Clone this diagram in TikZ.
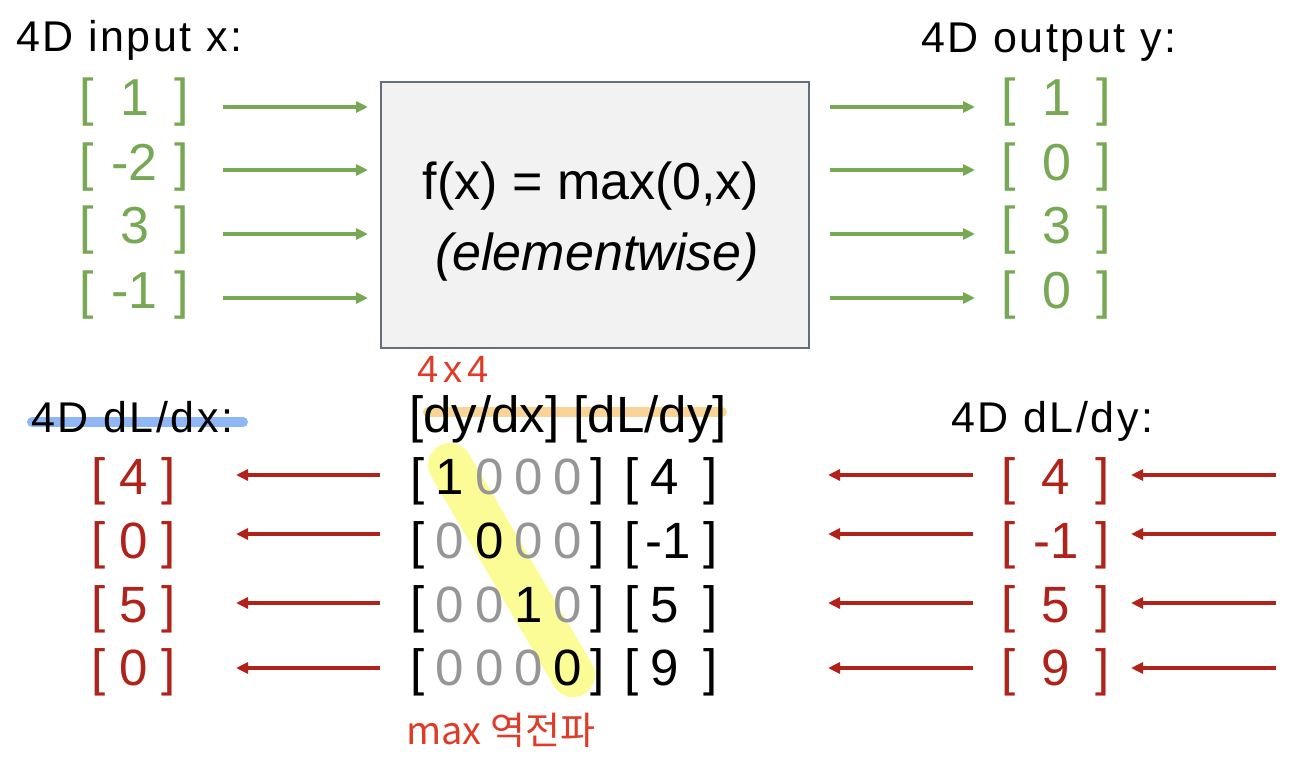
\documentclass[tikz,border=0pt]{standalone}
\usepackage{fontspec}
\setmainfont{Liberation Sans}
\newfontfamily\krfont{Noto Sans CJK KR}
\newfontfamily\lblfont[LetterSpace=6]{Liberation Sans}
\newfontfamily\handfont[LetterSpace=14]{Liberation Sans}
\usetikzlibrary{arrows.meta}
\definecolor{vgreen}{RGB}{119,168,83}
\definecolor{vred}{RGB}{176,35,26}
\definecolor{hred}{RGB}{222,60,40}
\definecolor{dgray}{RGB}{150,150,150}
\definecolor{boxfill}{RGB}{242,242,242}
\definecolor{boxline}{RGB}{100,110,125}
\definecolor{hblue}{RGB}{143,182,245}
\definecolor{horange}{RGB}{250,212,150}
\definecolor{hyellow}{RGB}{252,252,150}
\newcommand\vbr[2]{[\makebox[#1][c]{#2}]}
\tikzset{
  lbl/.style={font=\lblfont\fontsize{43}{50}\selectfont, anchor=base west, inner sep=0pt},
  gvec/.style={font=\fontsize{52}{60}\selectfont, text=vgreen, anchor=base, inner sep=0pt},
  rvec/.style={font=\fontsize{51}{60}\selectfont, text=vred, anchor=base, inner sep=0pt},
  mtx/.style={font=\fontsize{51}{60}\selectfont, anchor=base, inner sep=0pt},
  garrow/.style={draw=vgreen, line width=3.4pt, -{Triangle[length=12pt,width=11pt]}},
  rarrow/.style={draw=vred, line width=3.4pt, -{Triangle[length=12pt,width=11pt]}},
  hilite/.style={line width=10pt, line cap=round},
  hand/.style={text=hred, inner sep=0pt, anchor=base west},
}
\begin{document}
\begin{tikzpicture}[x=1pt,y=-1pt]
\useasboundingbox (0,0) rectangle (1308,778);

% highlights (behind text)
\draw[hilite, draw=hblue] (32,422) coordinate (hb1) -- (243,422) coordinate (hb2);
\draw[hilite, draw=horange] (428,412) coordinate (ho1) -- (722,412) coordinate (ho2);
\draw[line width=44pt, line cap=round, draw=hyellow] (450,465) coordinate (hy1) -- (573,675) coordinate (hy2);

% titles
\node[lbl] (tin) at (16,52) {4D input x:};
\node[lbl] (tout) at (921,53) {4D output y:};
\node[lbl] (tdx) at (31,432) {4D dL/dx:};
\node[lbl] (tdy) at (951,432) {4D dL/dy:};
\node[font=\fontsize{51}{58}\selectfont, anchor=base west, inner sep=0pt] (thdr) at (409,432) {[dy/dx] [dL/dy]};

% function box
\node[draw=boxline, fill=boxfill, line width=1.4pt, minimum width=428pt, minimum height=266pt, inner sep=0pt] (fbox) at (595,215) {};
\node[font=\fontsize{52}{60}\selectfont, anchor=base, inner sep=0pt] (ftext) at (591,200) {f(x) = max(0,x)};
\node[font=\fontsize{52}{60}\selectfont\itshape, anchor=base, inner sep=0pt] (fitext) at (597,270) {(elementwise)};

% green input / output vectors
\node[gvec] (x1) at (134.5,115.5) {\vbr{81pt}{1}};
\node[gvec] (x2) at (134.5,180.5) {\vbr{81pt}{-2}};
\node[gvec] (x3) at (134.5,243.5) {\vbr{81pt}{3}};
\node[gvec] (x4) at (134.5,308.5) {\vbr{81pt}{-1}};
\node[gvec] (y1) at (1056.5,115.5) {\vbr{81pt}{1}};
\node[gvec] (y2) at (1056.5,180.5) {\vbr{81pt}{0}};
\node[gvec] (y3) at (1056.5,243.5) {\vbr{81pt}{3}};
\node[gvec] (y4) at (1056.5,308.5) {\vbr{81pt}{0}};

% green arrows
\foreach \i/\yy in {1/107,2/170,3/234,4/298}{
  \coordinate (ga\i) at (223,\yy);
  \coordinate (gb\i) at (368,\yy);
  \coordinate (gc\i) at (830,\yy);
  \coordinate (gd\i) at (975,\yy);
  \draw[garrow] (ga\i) -- (gb\i);
  \draw[garrow] (gc\i) -- (gd\i);
}

% red dL/dx and dL/dy vectors
\node[rvec] (dx1) at (134,494) {\vbr{56pt}{4}};
\node[rvec] (dx2) at (134,558) {\vbr{56pt}{0}};
\node[rvec] (dx3) at (134,622) {\vbr{56pt}{5}};
\node[rvec] (dx4) at (134,685) {\vbr{56pt}{0}};
\node[rvec] (dy1) at (1056,494) {\vbr{80pt}{4}};
\node[rvec] (dy2) at (1056,558) {\vbr{80pt}{-1}};
\node[rvec] (dy3) at (1056,622) {\vbr{80pt}{5}};
\node[rvec] (dy4) at (1056,685) {\vbr{80pt}{9}};

% red arrows
\foreach \i/\yy in {1/475,2/534,3/603,4/668}{
  \coordinate (ra\i) at (380,\yy);
  \coordinate (rb\i) at (236,\yy);
  \coordinate (rc\i) at (973,\yy);
  \coordinate (rd\i) at (828,\yy);
  \coordinate (re\i) at (1276,\yy);
  \coordinate (rf\i) at (1131,\yy);
  \draw[rarrow] (ra\i) -- (rb\i);
  \draw[rarrow] (rc\i) -- (rd\i);
  \draw[rarrow] (re\i) -- (rf\i);
}

% Jacobian matrix and dL/dy
\foreach \r/\yy/\a/\b/\c/\d/\v/\vx in {1/494/black/dgray/dgray/dgray/4/665,
                                        2/558/dgray/black/dgray/dgray/-1/668,
                                        3/622/dgray/dgray/black/dgray/5/665,
                                        4/685/dgray/dgray/dgray/black/9/665}{
  \node[mtx, anchor=base west] (lb\r) at (410,\yy) {[};
  \node[mtx, text=\a] (m\r1) at (450,\yy) {\ifnum\r=1 1\else 0\fi};
  \node[mtx, text=\b] (m\r2) at (490,\yy) {0};
  \node[mtx, text=\c] (m\r3) at (529,\yy) {\ifnum\r=3 1\else 0\fi};
  \node[mtx, text=\d] (m\r4) at (568,\yy) {0};
  \node[mtx, anchor=base east] (rb\r) at (605,\yy) {]};
  \node[mtx, anchor=base west] (lc\r) at (624,\yy) {[};
  \node[mtx] (v\r) at (\vx,\yy) {\v};
  \node[mtx, anchor=base east] (rc\r) at (718,\yy) {]};
}

% handwritten notes
\node[hand, font=\handfont\fontsize{38}{44}\selectfont] (n44) at (417,382) {4x4};
\node[hand, font=\krfont\fontsize{38}{44}\selectfont] (nmax) at (406,744) {max 역전파};
\end{tikzpicture}
\end{document}
